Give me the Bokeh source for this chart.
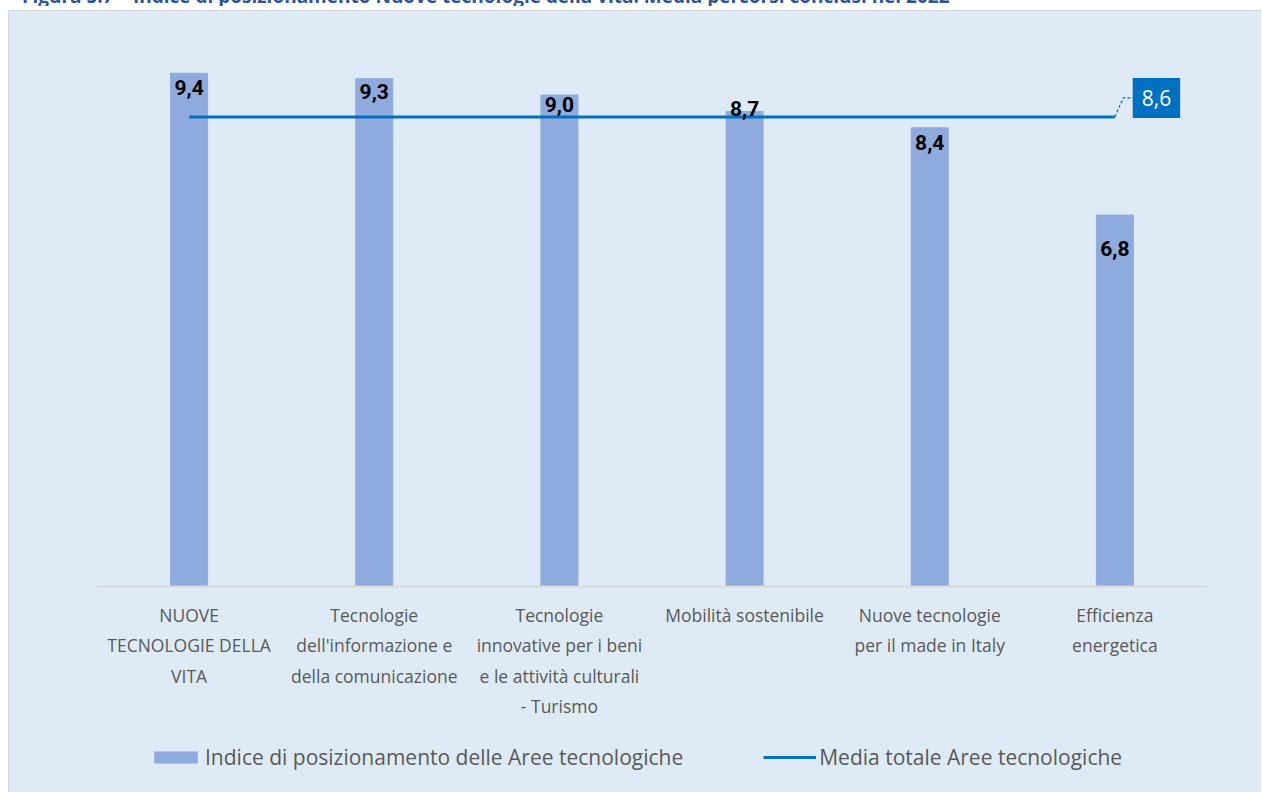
from bokeh.plotting import figure
from bokeh.models import (ColumnDataSource, Range1d, FixedTicker, Legend, LegendItem,
                          Label, Div)
from bokeh.layouts import column
from bokeh.core.properties import value
from bokeh.embed import file_html
from bokeh.resources import INLINE

# ---- data ----
title_text = ("Figura 5.7 \u2013 Indice di posizionamento Nuove tecnologie della vita: "
              "Media percorsi conclusi nel 2022")
categories = [
    "NUOVE\nTECNOLOGIE DELLA\nVITA",
    "Tecnologie\ndell'informazione e\ndella comunicazione",
    "Tecnologie\ninnovative per i beni\ne le attivit\u00e0 culturali\n- Turismo",
    "Mobilit\u00e0 sostenibile",
    "Nuove tecnologie\nper il made in Italy",
    "Efficienza\nenergetica",
]
indice = [9.4, 9.3, 9.0, 8.7, 8.4, 6.8]
media = [8.6, 8.6, 8.6, 8.6, 8.6, 8.6]
media_label = "8,6"
series_names = ["Indice di posizionamento delle Aree tecnologiche",
                "Media totale Aree tecnologiche"]
label_dy = [14, 13, 9, -3, 15, 33]   # label placement (screen px), style only

# ---- styles ----
BG = "#DEEBF7"
BAR = "#8FAADC"
LINE = "#0070C0"
TXT = "#595959"
FONT = "Open Sans"

xs = list(range(len(categories)))
src = ColumnDataSource(dict(
    x=xs, y=indice,
    lab=[f"{v:.1f}".replace(".", ",") for v in indice],
    dy=label_dy,
))

# frame extends below the baseline so that the legend sits inside it
p = figure(frame_width=1110, frame_height=752, output_backend="svg",
           toolbar_location=None,
           x_range=Range1d(-0.5, 5.5), y_range=Range1d(-3.8, 10),
           min_border_left=87, min_border_right=55, min_border_top=29,
           min_border_bottom=0, margin=(4, 0, 0, 8),
           styles={"background-color": BG,
                   "border-top": "1px solid #D6D6D6",
                   "border-left": "1px solid #D6D6D6"})
p.background_fill_color = None
p.border_fill_color = None
p.outline_line_color = None
p.grid.visible = False
p.yaxis.visible = False

ax = p.xaxis[0]
ax.fixed_location = 0
ax.ticker = FixedTicker(ticks=xs)
ax.major_label_overrides = {i: c for i, c in zip(xs, categories)}
ax.major_tick_line_color = None
ax.major_tick_out = 0
ax.major_tick_in = 0
ax.minor_tick_line_color = None
ax.axis_line_color = "#D9D9D9"
ax.axis_line_width = 2
ax.major_label_text_font = FONT
ax.major_label_text_font_size = "17.5px"
ax.major_label_text_color = TXT
ax.major_label_text_line_height = 1.26
ax.major_label_standoff = 17

bars = p.vbar(x="x", top="y", width=0.2, source=src, fill_color=BAR,
              line_color=BAR)
mline = p.line(x=xs, y=media, line_width=3, line_color=LINE)

p.text(x="x", y="y", text="lab", y_offset="dy", source=src,
       text_align="center", text_baseline="middle", text_font=value("Roboto"),
       text_font_style="bold", text_font_size="21px", text_color="black")

# leader line of the 8,6 label
p.line(x=[xs[-1], xs[-1] + 0.045, xs[-1] + 0.10],
       y=[media[-1], media[-1] + 0.35, media[-1] + 0.35],
       line_dash="3 2", line_width=1.2, line_color=LINE)

lab = Label(x=xs[-1], y=media[-1], text=media_label, x_offset=41.5, y_offset=19,
            text_align="center", text_baseline="middle", text_color="white",
            text_font=FONT, text_font_size="21px",
            background_fill_color=LINE, padding=(9, 12))
p.add_layout(lab)

legend = Legend(items=[LegendItem(label=series_names[0], renderers=[bars]),
                       LegendItem(label=series_names[1], renderers=[mline])],
                orientation="horizontal", location=(53, 22),
                glyph_width=53, glyph_height=14, label_standoff=3, spacing=80,
                padding=0, margin=0, background_fill_alpha=0,
                border_line_color=None, label_text_font=FONT,
                label_text_font_size="21px", label_text_color=TXT)
p.add_layout(legend)

title = Div(text=title_text, width=1252, height=20, margin=(-14, 0, 0, 8),
            styles={"font-family": FONT, "font-weight": "bold", "font-size": "19px",
                    "color": "#2E5596", "line-height": "20px", "padding-left": "14px",
                    "white-space": "nowrap", "overflow": "hidden"})

layout = column(title, p, spacing=0)
open("out.html", "w").write(file_html(layout, INLINE))
